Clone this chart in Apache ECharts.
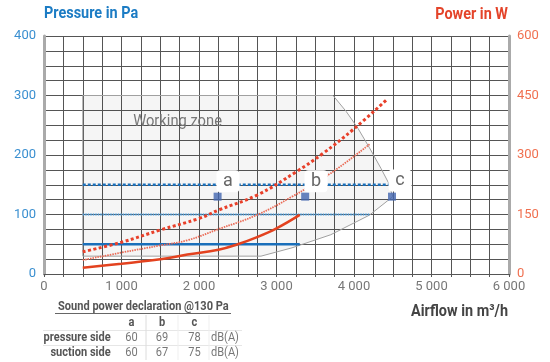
<!DOCTYPE html>
<html><head><meta charset="utf-8">
<script src="https://cdn.jsdelivr.net/npm/echarts@6/dist/echarts.min.js"></script>
<style>html,body{margin:0;padding:0;background:#fff}#c{width:550px;height:362px}</style>
</head><body><div id="c"></div>
<script>
// ---- axis ticks ----
const xTickLabels = [0, 1000, 2000, 3000, 4000, 5000, 6000];
const pressureTickLabels = [0, 100, 200, 300, 400];
const powerTickLabels = [0, 150, 300, 450, 600];

// ---- pressure lines (Pa) ----
const pressureLevels = [50, 100, 150];
const pressureLineStart = [500, 500, 500];
const pressureLineEnd = [3300, 4200, 4450];

// ---- power curves (W) ----
const powerLowA = [500, 1000, 1500, 1850, 2250, 2500, 2750, 3000, 3300];
const powerLowW = [16, 26, 37, 49, 61, 75, 93, 115, 149];
const powerMidA = [500, 1000, 1500, 1850, 2250, 2750, 3200, 3700, 4200];
const powerMidW = [35, 54, 72, 85, 113, 149, 195, 254, 327];
const powerHighA = [500, 1000, 1500, 2000, 2250, 2750, 3250, 3600, 4000, 4430];
const powerHighW = [56, 80, 111, 140, 161, 199, 257, 304, 366, 441];

// ---- sound declaration points ----
const pointNames = ['a', 'b', 'c'];
const pointA = [2240, 3370, 4490];
const pointP = [130, 130, 130];
const labelA = [2374, 3510, 4594];
const labelP = [156, 156, 157];

// ---- working zone outline ----
const zoneA = [500, 500, 3730, 3900, 4050, 4200, 4350, 4450, 4500, 4200, 3700, 3200, 2800, 500];
const zoneP = [30, 300, 300, 273, 245, 212, 177, 152, 130, 99, 66, 44, 30, 30];
const zoneTitle = 'Working zone';

// ---- table ----
const tableTitle = 'Sound power declaration @130 Pa';
const tableCols = ['a', 'b', 'c'];
const tableRows = ['pressure side', 'suction side'];
const pressureSide = [60, 69, 78];
const suctionSide = [60, 67, 75];
const tableUnit = 'dB(A)';

const FONT = 'Roboto, "Noto Sans", sans-serif';
const SX = 0.85;
const fmt = v => String(v).replace(/\B(?=(\d{3})+(?!\d))/g, ' ');

const chart = echarts.init(document.getElementById('c'), null, {renderer: 'canvas'});

const pressureStyles = [
  {color: '#1a6fba', width: 2.5, type: 'solid'},
  {color: '#4a9ad8', width: 2, type: [1.5, 1]},
  {color: '#1a6fba', width: 2.5, type: [3, 2]}
];

const series = [];
series.push({
  type: 'custom',
  silent: true,
  data: [0],
  renderItem: function (params, api) {
    const pts = zoneA.map((a, i) => api.coord([a, zoneP[i]]));
    const tp = api.coord([1150, 255]);
    const hp = api.coord([0, 400]);
    return {
      type: 'group',
      children: [
        {type: 'polygon', shape: {points: pts}, style: {fill: 'rgba(0,0,0,0.04)', stroke: '#a0a0a0', lineWidth: 1}},
        {type: 'text', x: tp[0], y: tp[1], scaleX: 0.92, style: {text: zoneTitle, fill: '#777', font: '16px ' + FONT, align: 'left', verticalAlign: 'middle'}},
        {type: 'text', x: hp[0], y: hp[1] - 22, scaleX: SX, style: {text: 'Pressure in Pa', fill: '#1c7cc4', font: 'bold 17px ' + FONT, align: 'left', verticalAlign: 'middle'}}
      ]
    };
  }
});
pressureLevels.forEach((p, i) => {
  series.push({
    type: 'line', symbol: 'none', silent: true,
    data: [[pressureLineStart[i], p], [pressureLineEnd[i], p]],
    lineStyle: pressureStyles[i]
  });
});
const powerSets = [
  [powerLowA, powerLowW, {color: '#e3421f', width: 2.5, type: 'solid'}],
  [powerMidA, powerMidW, {color: '#ea6a55', width: 1.8, type: [1.5, 1]}],
  [powerHighA, powerHighW, {color: '#e8402a', width: 3, type: [3, 2.5]}]
];
powerSets.forEach(s => {
  series.push({
    type: 'line', yAxisIndex: 1, symbol: 'none', smooth: 0.4, silent: true,
    data: s[0].map((a, i) => [a, s[1][i]]),
    lineStyle: s[2]
  });
});
series.push({
  type: 'scatter', symbol: 'rect', symbolSize: 8, silent: true, z: 5,
  itemStyle: {color: '#4467b0'},
  data: pointA.map((a, i) => [a, pointP[i]])
});
series.push({
  type: 'custom', silent: true, z: 6,
  data: labelA.map((a, i) => [a, labelP[i], i]),
  renderItem: function (params, api) {
    const c = api.coord([api.value(0), api.value(1)]);
    return {
      type: 'group',
      children: [
        {type: 'rect', shape: {x: c[0] - 11.5, y: c[1] - 11, width: 23, height: 22, r: 4}, style: {fill: '#fff'}},
        {type: 'text', x: c[0], y: c[1], style: {text: pointNames[api.value(2)], fill: '#666', font: '18px ' + FONT, align: 'center', verticalAlign: 'middle'}}
      ]
    };
  }
});

function txt(x, y, text, font, fill, align) {
  return {type: 'text', x: x, y: y, scaleX: SX,
    style: {text: text, font: font, fill: fill, align: align || 'left', verticalAlign: 'middle'}};
}
const graphic = [
  txt(508, 15, 'Power in W', 'bold 17px ' + FONT, '#e4442a', 'right'),
  txt(508, 312, 'Airflow in m³/h', 'bold 17px ' + FONT, '#444', 'right'),
  txt(58, 307, tableTitle, 'bold 13px ' + FONT, '#555', 'left'),
  {type: 'line', shape: {x1: 55, y1: 313.5, x2: 231, y2: 313.5}, style: {stroke: '#666', lineWidth: 1}},
  {type: 'line', shape: {x1: 43, y1: 330.5, x2: 242, y2: 330.5}, style: {stroke: '#e6e6e6', lineWidth: 1}},
  {type: 'line', shape: {x1: 43, y1: 345.5, x2: 242, y2: 345.5}, style: {stroke: '#e6e6e6', lineWidth: 1}},
  {type: 'line', shape: {x1: 146, y1: 315, x2: 146, y2: 360}, style: {stroke: '#dcdcdc', lineWidth: 1}},
  {type: 'line', shape: {x1: 178, y1: 315, x2: 178, y2: 360}, style: {stroke: '#efefef', lineWidth: 1}},
  {type: 'line', shape: {x1: 209, y1: 315, x2: 209, y2: 360}, style: {stroke: '#efefef', lineWidth: 1}}
];
const colX = [131.5, 162, 194.5];
tableCols.forEach((c, i) => {
  graphic.push(txt(colX[i], 322.5, c, 'bold 13px ' + FONT, '#555', 'center'));
});
[pressureSide, suctionSide].forEach((row, r) => {
  const y = [338, 352.5][r];
  graphic.push(txt(110.7, y, tableRows[r], 'bold 13px ' + FONT, '#555', 'right'));
  row.forEach((v, i) => {
    graphic.push(txt(colX[i], y, String(v), '13px ' + FONT, '#777', 'center'));
  });
  graphic.push(txt(211, y, tableUnit, '13px ' + FONT, '#777', 'left'));
});

chart.setOption({
  animation: false,
  backgroundColor: '#fff',
  grid: {left: 44, right: 41, top: 36, bottom: 88, containLabel: false},
  xAxis: {
    type: 'value', min: 0, max: 6000, interval: 250,
    axisLine: {show: true, lineStyle: {color: '#555', width: 1}},
    axisTick: {show: true, length: 3, lineStyle: {color: '#555'}},
    axisLabel: {color: '#777', fontSize: 13, fontFamily: FONT, margin: 6, showMinLabel: true, showMaxLabel: true,
      formatter: v => xTickLabels.indexOf(v) >= 0 ? fmt(v) : ''},
    splitLine: {show: true, lineStyle: {color: '#555', width: 1}}
  },
  yAxis: [
    {
      type: 'value', min: 0, max: 400, interval: 25,
      axisLine: {show: true, lineStyle: {color: '#aaa', width: 3}},
      axisTick: {show: false},
      axisLabel: {color: '#3a8fd0', fontSize: 13, fontFamily: FONT, margin: 8,
        formatter: v => pressureTickLabels.indexOf(v) >= 0 ? String(v) : ''},
      splitLine: {show: true, lineStyle: {color: '#555', width: 1}}
    },
    {
      type: 'value', min: 0, max: 600, interval: 37.5, position: 'right',
      axisLine: {show: true, lineStyle: {color: '#aaa', width: 3}},
      axisTick: {show: false},
      axisLabel: {color: '#f07050', fontSize: 13, fontFamily: FONT, margin: 8,
        formatter: v => powerTickLabels.indexOf(v) >= 0 ? String(v) : ''},
      splitLine: {show: false}
    }
  ],
  series: series,
  graphic: graphic
});
</script>
</body></html>
